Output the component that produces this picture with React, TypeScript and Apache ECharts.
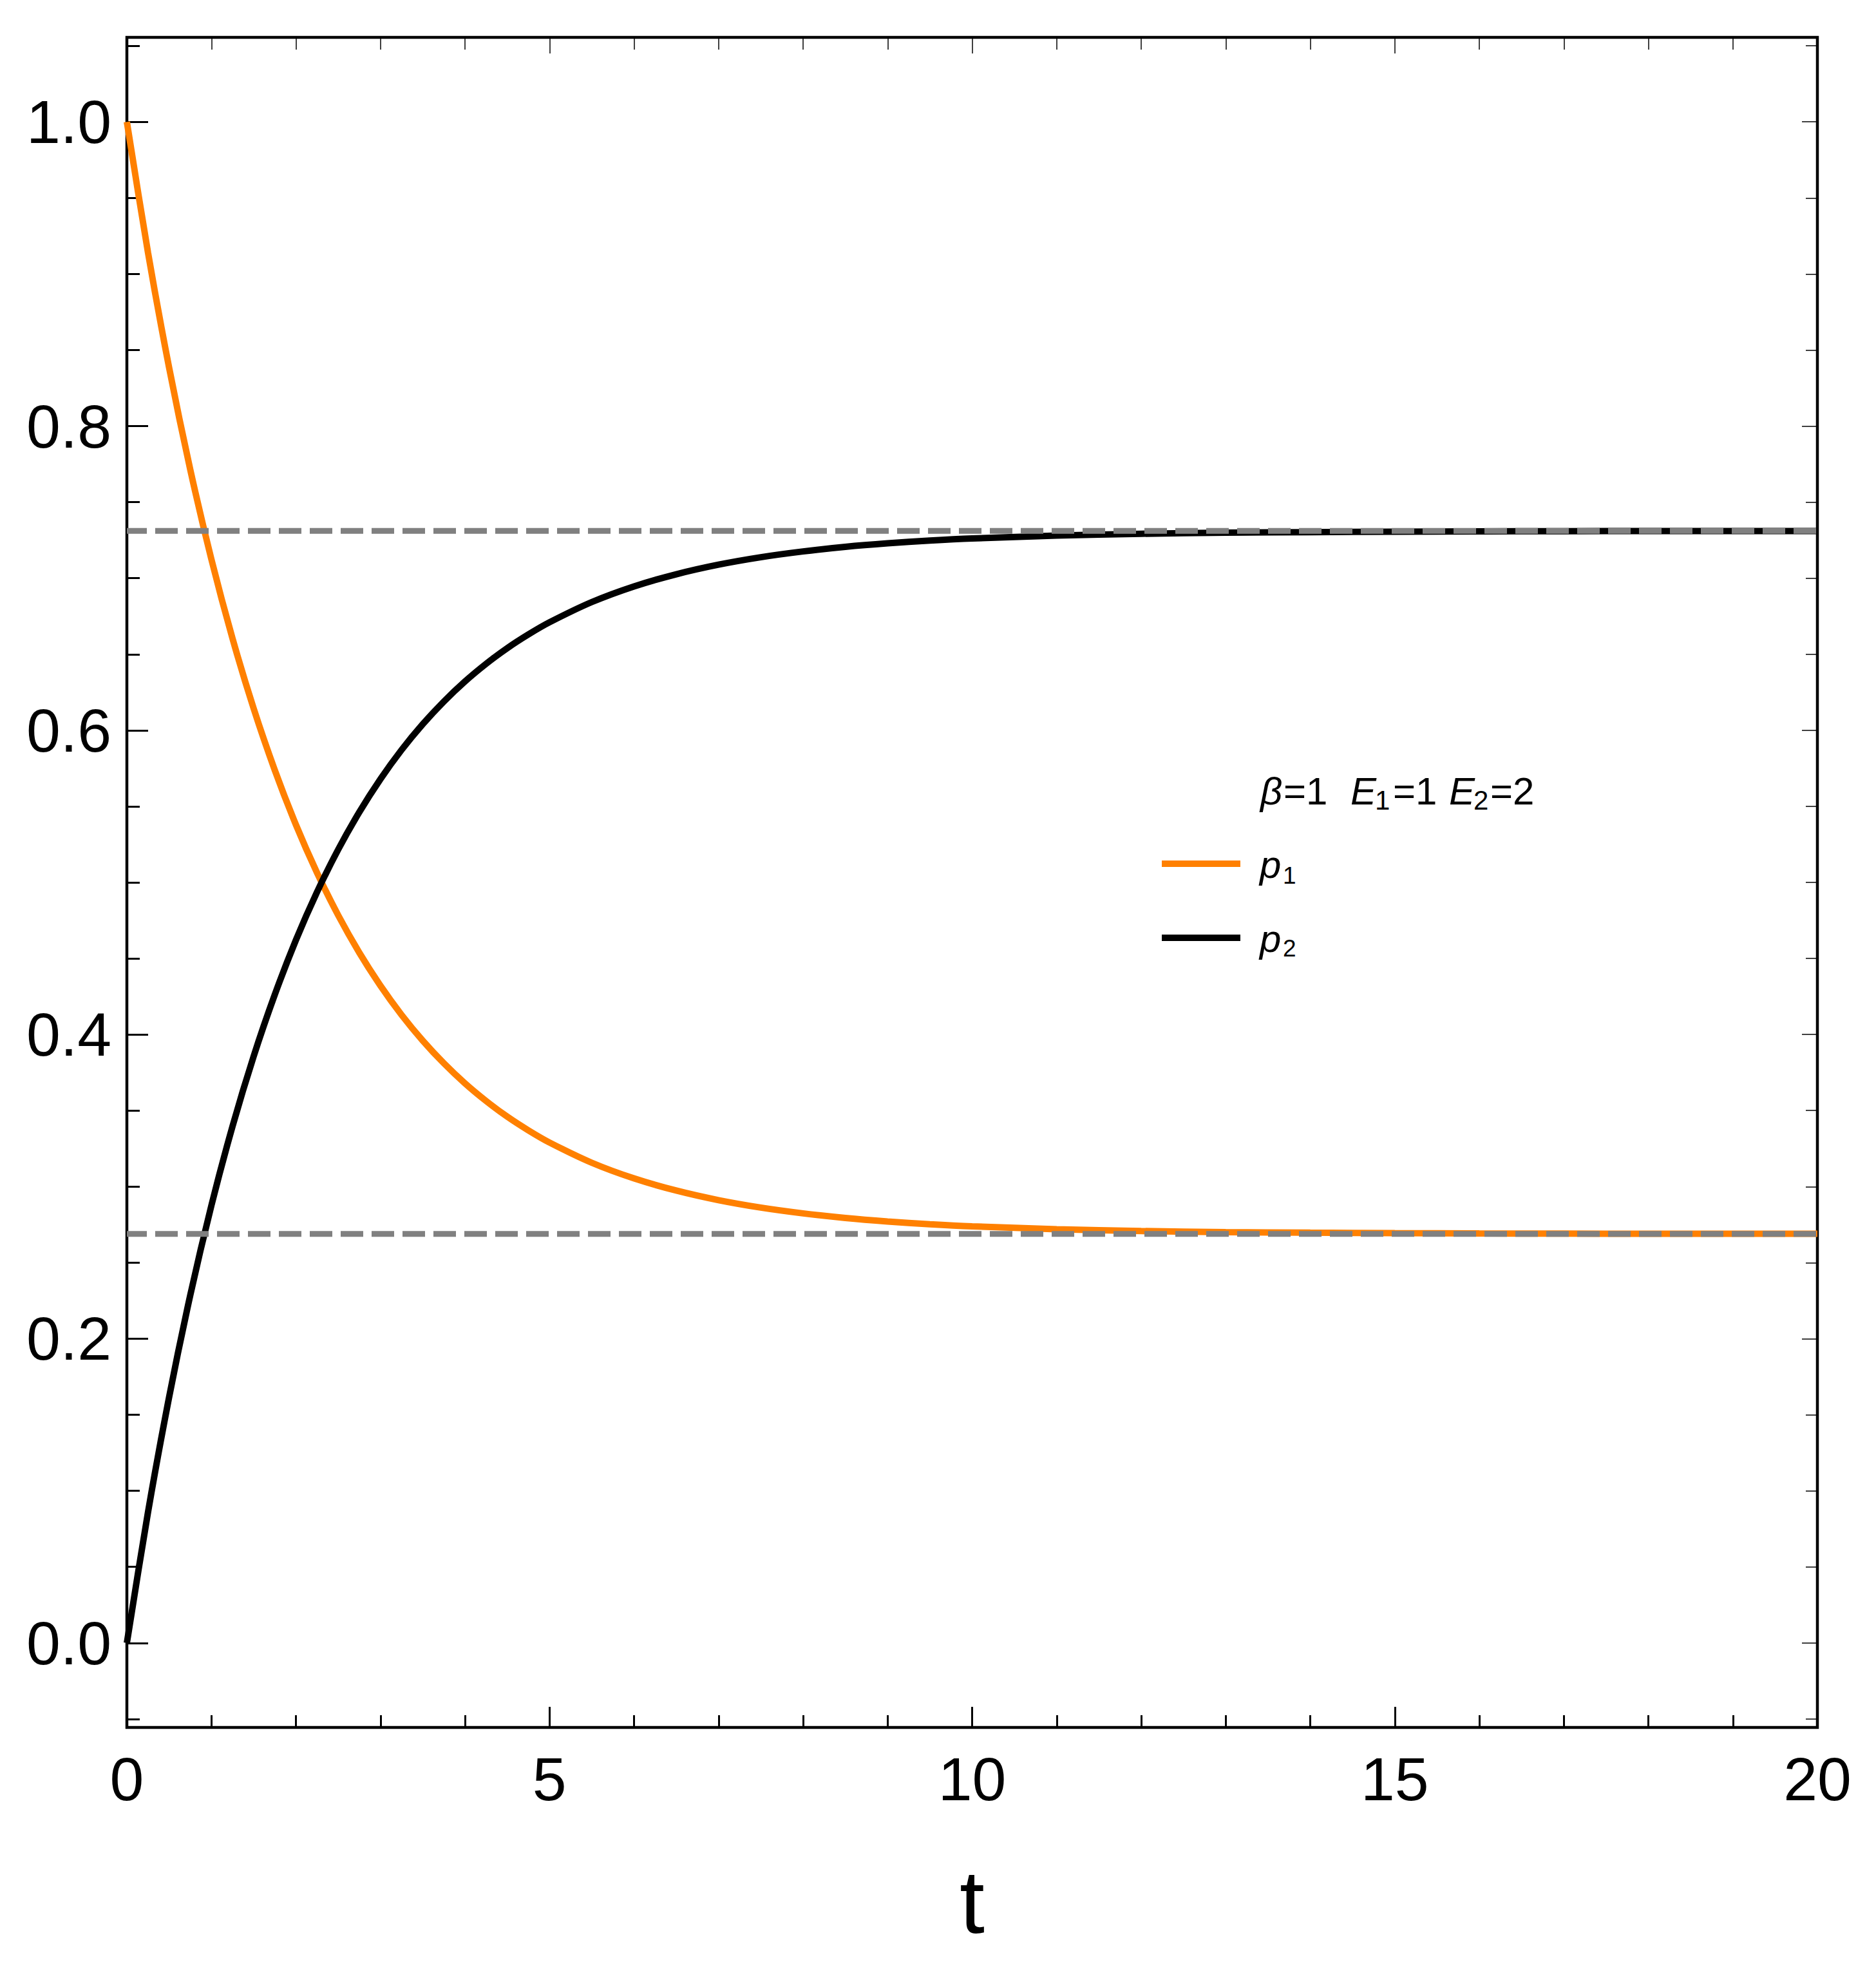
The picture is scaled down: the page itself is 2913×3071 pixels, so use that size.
import React, { useEffect, useRef } from "react";
import * as echarts from "echarts";

// ---- data ----
const tValues = [
  0, 0.25, 0.5, 0.75, 1, 1.25, 1.5, 1.75, 2, 2.25, 2.5, 2.75, 3, 3.25, 3.5, 3.75,
  4, 4.25, 4.5, 4.75, 5, 5.5, 6, 6.5, 7, 7.5, 8, 8.5, 9, 9.5, 10, 11, 12, 13, 14,
  15, 16, 17, 18, 19, 20,
];
const p1Values = [
  1.0, 0.9141, 0.8383, 0.7714, 0.7124, 0.6603, 0.6143, 0.5738, 0.5379, 0.5063,
  0.4784, 0.4538, 0.4321, 0.4129, 0.396, 0.3811, 0.3679, 0.3563, 0.346, 0.337,
  0.329, 0.3157, 0.3054, 0.2974, 0.2911, 0.2862, 0.2824, 0.2794, 0.2771, 0.2753,
  0.2739, 0.272, 0.2708, 0.2701, 0.2697, 0.2694, 0.2692, 0.2691, 0.269, 0.269,
  0.269,
];
const p2Values = [
  0.0, 0.0859, 0.1617, 0.2286, 0.2876, 0.3397, 0.3857, 0.4262, 0.4621, 0.4937,
  0.5216, 0.5462, 0.5679, 0.5871, 0.604, 0.6189, 0.6321, 0.6437, 0.654, 0.663,
  0.671, 0.6843, 0.6946, 0.7026, 0.7089, 0.7138, 0.7176, 0.7206, 0.7229, 0.7247,
  0.7261, 0.728, 0.7292, 0.7299, 0.7303, 0.7306, 0.7308, 0.7309, 0.731, 0.731,
  0.731,
];
const equilibriumT = [0, 20];
const equilibriumP2 = [0.7311, 0.7311];
const equilibriumP1 = [0.2689, 0.2689];
const yMajorTicks = [0, 0.2, 0.4, 0.6, 0.8, 1.0];
const yMinorTicks = [
  -0.05, 0.05, 0.1, 0.15, 0.25, 0.3, 0.35, 0.45, 0.5, 0.55, 0.65, 0.7, 0.75,
  0.85, 0.9, 0.95, 1.05,
];
const xAxisName = "t";

// ---- layout / style ----
const W = 2913;
const H = 3071;
const FONT = "'Liberation Sans', Arial, Helvetica, sans-serif";
const Y_MIN = -0.05556;
const Y_MAX = 1.05556;
const ORANGE = "#FF8000";
const GRAY = "#808080";
const K_MID = 0.3465; // central-baseline offset ratio

function textPiece(
  text: string,
  x: number,
  baseline: number,
  size: number,
  italic: boolean
) {
  return {
    type: "text",
    x,
    y: baseline - K_MID * size,
    silent: true,
    style: {
      text,
      fill: "#000",
      font: `${italic ? "italic " : ""}${size}px ${FONT}`,
      fontSize: size,
      fontFamily: FONT,
      fontStyle: italic ? "italic" : "normal",
      textAlign: "left",
      textVerticalAlign: "middle",
      verticalAlign: "middle",
    },
  };
}

export default function App() {
  const ref = useRef<HTMLDivElement>(null);

  useEffect(() => {
    if (!ref.current) return;
    const chart = echarts.init(ref.current, undefined, { renderer: "svg" });

    const pair = (xs: number[], ys: number[]) => xs.map((x, i) => [x, ys[i]]);

    const yBase = {
      type: "value",
      min: Y_MIN,
      max: Y_MAX,
      axisLine: { show: false, onZero: false },
      splitLine: { show: false },
    };

    const titleBase = 1249;
    const titleSubBase = 1257;
    const graphics: any[] = [
      textPiece("β", 1957, titleBase, 60, true),
      textPiece("=1", 1993, titleBase, 60, false),
      textPiece("E", 2097, titleBase, 60, true),
      textPiece("1", 2135, titleSubBase, 42, false),
      textPiece("=1", 2163, titleBase, 60, false),
      textPiece("E", 2250, titleBase, 60, true),
      textPiece("2", 2288, titleSubBase, 42, false),
      textPiece("=2", 2314, titleBase, 60, false),
      {
        type: "line",
        silent: true,
        shape: { x1: 1804, y1: 1341, x2: 1926, y2: 1341 },
        style: { stroke: ORANGE, lineWidth: 10 },
      },
      textPiece("p", 1956, 1363, 60, true),
      textPiece("1", 1992, 1372, 37, false),
      {
        type: "line",
        silent: true,
        shape: { x1: 1804, y1: 1456, x2: 1926, y2: 1456 },
        style: { stroke: "#000", lineWidth: 10 },
      },
      textPiece("p", 1956, 1478, 60, true),
      textPiece("2", 1992, 1485, 37, false),
    ];

    chart.setOption({
      animation: false,
      backgroundColor: "#fff",
      grid: {
        left: 197,
        top: 58,
        width: 2625,
        height: 2624,
        show: true,
        borderColor: "#000",
        borderWidth: 4.5,
        backgroundColor: "transparent",
        containLabel: false,
      },
      xAxis: [
        {
          type: "value",
          position: "bottom",
          min: 0,
          max: 20,
          interval: 5,
          axisLine: { show: false, onZero: false },
          splitLine: { show: false },
          axisTick: {
            show: true,
            inside: true,
            length: 32,
            lineStyle: { color: "#000", width: 3 },
          },
          minorTick: {
            show: true,
            splitNumber: 5,
            length: 19,
            lineStyle: { color: "#000", width: 3 },
          },
          axisLabel: {
            fontSize: 95,
            fontFamily: FONT,
            color: "#000",
            margin: 32,
          },
          name: xAxisName,
          nameLocation: "middle",
          nameGap: 200,
          nameTextStyle: { fontSize: 140, fontFamily: FONT, color: "#000" },
        },
        {
          type: "value",
          position: "top",
          min: 0,
          max: 20,
          interval: 5,
          axisLine: { show: false, onZero: false },
          splitLine: { show: false },
          axisTick: {
            show: true,
            inside: true,
            length: 25,
            lineStyle: { color: "#000", width: 1.5 },
          },
          minorTick: {
            show: true,
            splitNumber: 5,
            length: 19,
            lineStyle: { color: "#000", width: 1.5 },
          },
          axisLabel: { show: false },
        },
      ],
      yAxis: [
        {
          ...yBase,
          position: "left",
          axisTick: {
            show: true,
            inside: true,
            length: 33,
            customValues: yMajorTicks,
            lineStyle: { color: "#000", width: 3 },
          },
          axisLabel: {
            customValues: yMajorTicks,
            formatter: (v: number) => v.toFixed(1),
            fontSize: 95,
            fontFamily: FONT,
            color: "#000",
            margin: 24,
          },
        },
        {
          ...yBase,
          position: "left",
          axisTick: {
            show: true,
            inside: true,
            length: 20,
            customValues: yMinorTicks,
            lineStyle: { color: "#000", width: 3 },
          },
          axisLabel: { show: false },
        },
        {
          ...yBase,
          position: "right",
          axisTick: {
            show: true,
            inside: true,
            length: 24,
            customValues: yMajorTicks,
            lineStyle: { color: "#000", width: 1.5 },
          },
          axisLabel: { show: false },
        },
        {
          ...yBase,
          position: "right",
          axisTick: {
            show: true,
            inside: true,
            length: 18,
            customValues: yMinorTicks,
            lineStyle: { color: "#000", width: 1.5 },
          },
          axisLabel: { show: false },
        },
      ],
      series: [
        {
          name: "p1",
          type: "line",
          data: pair(tValues, p1Values),
          showSymbol: false,
          smooth: 0.3,
          lineStyle: { color: ORANGE, width: 10 },
          z: 2,
        },
        {
          name: "p2",
          type: "line",
          data: pair(tValues, p2Values),
          showSymbol: false,
          smooth: 0.3,
          lineStyle: { color: "#000", width: 10 },
          z: 2,
        },
        {
          name: "eq2",
          type: "line",
          data: pair(equilibriumT, equilibriumP2),
          showSymbol: false,
          lineStyle: { color: GRAY, width: 9, type: [35, 13], dashOffset: 4 },
          z: 3,
        },
        {
          name: "eq1",
          type: "line",
          data: pair(equilibriumT, equilibriumP1),
          showSymbol: false,
          lineStyle: { color: GRAY, width: 9, type: [35, 13], dashOffset: 4 },
          z: 3,
        },
      ],
      graphic: graphics,
    });

    return () => chart.dispose();
  }, []);

  return (
    <div
      ref={ref}
      style={{ position: "absolute", left: 0, top: 0, width: W, height: H }}
    />
  );
}
